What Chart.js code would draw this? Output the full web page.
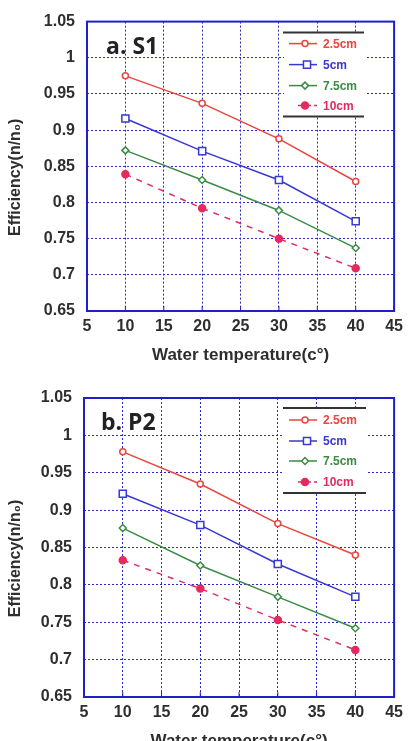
<!DOCTYPE html>
<html>
<head>
<meta charset="utf-8">
<script src="https://cdn.jsdelivr.net/npm/chart.js@4.4.0/dist/chart.umd.min.js"></script>
<style>
  html, body { margin:0; padding:0; background:#fff; overflow:hidden; width:409px; height:741px; }
  .panel { position:absolute; left:0; width:409px; }
</style>
</head>
<body>
<div class="panel" style="top:0;height:370px;"><canvas id="c1" width="409" height="370"></canvas></div>
<div class="panel" style="top:370px;height:386px;"><canvas id="c2" width="409" height="386"></canvas></div>
<script>
// ---- data ----
const temps = [10, 20, 30, 40];
const seriesLabels = ['2.5cm', '5cm', '7.5cm', '10cm'];
const xTicks = [5, 10, 15, 20, 25, 30, 35, 40, 45];
const yTicks = [0.65, 0.7, 0.75, 0.8, 0.85, 0.9, 0.95, 1, 1.05];
const yTickLabels = ['0.65', '0.7', '0.75', '0.8', '0.85', '0.9', '0.95', '1', '1.05'];

const s1_25 = [0.975, 0.937, 0.888, 0.829];
const s1_5 = [0.916, 0.871, 0.831, 0.774];
const s1_75 = [0.872, 0.831, 0.789, 0.737];
const s1_10 = [0.839, 0.792, 0.750, 0.709];

const p2_25 = [0.978, 0.935, 0.882, 0.840];
const p2_5 = [0.922, 0.880, 0.828, 0.784];
const p2_75 = [0.876, 0.826, 0.784, 0.742];
const p2_10 = [0.833, 0.795, 0.753, 0.713];

const xTitle = 'Water temperature(c°)';
const yTitle = 'Efficiency(n/n₀)';

// ---- styles ----
const styles = [
  { color:'#e8463e', pointStyle:'circle', radius:3, fill:'#ffffff', dash:[] },
  { color:'#3838d2', pointStyle:'rect', radius:5, fill:'#ffffff', dash:[] },
  { color:'#3a8c44', pointStyle:'rectRot', radius:3.5, fill:'#ffffff', dash:[] },
  { color:'#e42a5e', pointStyle:'circle', radius:3.5, fill:'#e42a5e', dash:[6,6] }
];
const gridBlue = '#2a2ad0';
const tickColor = '#2e2e2e';

function frameAndLegend(panelLabel, legendOffsets) {
  return {
    id: 'frameLegend',
    beforeDatasetsDraw(chart) {
      const {ctx, chartArea:a, scales} = chart;
      ctx.save();
      // small inner ticks along the bottom edge
      ctx.strokeStyle = '#2020c8';
      ctx.lineWidth = 1;
      ctx.beginPath();
      xTicks.forEach(v => { const px = scales.x.getPixelForValue(v); ctx.moveTo(px, a.bottom); ctx.lineTo(px, a.bottom - 5); });
      ctx.stroke();
      ctx.lineWidth = 2;
      ctx.strokeRect(a.left, a.top, a.right - a.left, a.bottom - a.top);
      ctx.restore();
    },
    afterDatasetsDraw(chart) {
      const {ctx, chartArea:a} = chart;
      const L = legendOffsets;
      ctx.save();
      // legend box
      ctx.fillStyle = '#ffffff';
      ctx.fillRect(a.left + L.x1 + 1, a.top + L.y1, L.x2 - L.x1, L.y2 - L.y1);
      ctx.strokeStyle = '#333333';
      ctx.lineWidth = 2;
      ctx.beginPath();
      ctx.moveTo(a.left + L.x1, a.top + L.y1); ctx.lineTo(a.left + L.x2, a.top + L.y1);
      ctx.moveTo(a.left + L.x1, a.top + L.y2); ctx.lineTo(a.left + L.x2, a.top + L.y2);
      ctx.stroke();
      chart.data.datasets.forEach((ds, i) => {
        const st = styles[i];
        const y = a.top + L.rows[i];
        const x0 = a.left + L.x1 + (i === 3 ? 15 : 6);
        const x1 = a.left + L.x1 + 34;
        const xm = a.left + L.x1 + (i === 1 ? 24 : 22);
        ctx.strokeStyle = st.color;
        ctx.lineWidth = 1.5;
        ctx.setLineDash(i === 3 ? [5, 3] : []);
        ctx.beginPath(); ctx.moveTo(x0, y); ctx.lineTo(x1, y); ctx.stroke();
        ctx.setLineDash([]);
        ctx.fillStyle = st.fill;
        Chart.helpers.drawPoint(ctx, { pointStyle: st.pointStyle, radius: st.radius, rotation: 0, borderWidth: 1.5 }, xm, y);
        ctx.fillStyle = st.color;
        ctx.font = 'bold 12px "Liberation Sans", Arial, sans-serif';
        ctx.textBaseline = 'middle';
        ctx.textAlign = 'left';
        ctx.fillText(ds.label, a.left + L.x1 + 40, y + 1);
      });
      // panel label
      ctx.fillStyle = '#222222';
      ctx.font = 'bold 23px "Open Sans", "Liberation Sans", sans-serif';
      ctx.textBaseline = 'middle';
      ctx.fillText(panelLabel.text, a.left + panelLabel.dx, a.top + panelLabel.dy);
      // y title
      ctx.save();
      ctx.translate(16, (a.top + a.bottom) / 2 + 11);
      ctx.rotate(-Math.PI / 2);
      ctx.textAlign = 'center';
      ctx.fillStyle = tickColor;
      ctx.font = 'bold 16px "Liberation Sans", Arial, sans-serif';
      ctx.fillText(yTitle, 0, 0);
      ctx.restore();
      ctx.restore();
    }
  };
}

function makeChart(id, data, padTop, padRight, yWidth, panelLabel, legendOffsets) {
  const datasets = data.map((vals, i) => ({
    label: seriesLabels[i],
    data: temps.map((t, k) => ({ x: t, y: vals[k] })),
    borderColor: styles[i].color,
    backgroundColor: styles[i].fill,
    pointBackgroundColor: styles[i].fill,
    pointBorderColor: styles[i].color,
    pointStyle: styles[i].pointStyle,
    pointRadius: styles[i].radius,
    pointBorderWidth: 1.5,
    borderWidth: 1.5,
    borderDash: styles[i].dash,
    tension: 0,
    fill: false
  }));
  return new Chart(document.getElementById(id), {
    type: 'line',
    data: { datasets },
    options: {
      responsive: false,
      animation: false,
      devicePixelRatio: 1,
      layout: { padding: { top: padTop, right: padRight, left: 0, bottom: 0 } },
      plugins: { legend: { display: false }, tooltip: { enabled: false } },
      scales: {
        x: {
          type: 'linear', min: 5, max: 45,
          afterBuildTicks: s => { s.ticks = xTicks.map(v => ({ value: v })); },
          afterFit: s => { s.height = 59; },
          ticks: { color: tickColor, padding: 6, font: { size: 16, weight: 'bold', family: '"Liberation Sans", Arial, sans-serif' }, maxRotation: 0, autoSkip: false },
          grid: { color: gridBlue, lineWidth: 1, drawTicks: false },
          border: { display: false, dash: [2, 2] },
          title: { display: true, text: xTitle, color: tickColor, font: { size: 17, weight: 'bold', family: '"Liberation Sans", Arial, sans-serif' }, padding: { top: 0, bottom: 4 } }
        },
        y: {
          type: 'linear', min: 0.65, max: 1.05,
          afterBuildTicks: s => { s.ticks = yTicks.map(v => ({ value: v })); },
          afterFit: s => { s.width = yWidth; },
          ticks: { color: tickColor, padding: 12, font: { size: 16, weight: 'bold', family: '"Liberation Sans", Arial, sans-serif' },
                   callback: (v, i) => yTickLabels[yTicks.findIndex(t => Math.abs(t - v) < 1e-6)] },
          grid: { color: gridBlue, lineWidth: 1, drawTicks: false },
          border: { display: false, dash: [2, 2] }
        }
      }
    },
    plugins: [frameAndLegend(panelLabel, legendOffsets)]
  });
}

makeChart('c1', [s1_25, s1_5, s1_75, s1_10], 12, 9, 87,
  { text: 'a. S1', dx: 19, dy: 26 },
  { x1: 196, x2: 277, y1: 11, y2: 95, rows: [22, 43, 64, 84] });
makeChart('c2', [p2_25, p2_5, p2_75, p2_10], 28, 7, 84,
  { text: 'b. P2', dx: 17, dy: 25 },
  { x1: 199, x2: 282, y1: 10, y2: 95, rows: [22, 43, 63, 84] });
</script>
</body>
</html>
